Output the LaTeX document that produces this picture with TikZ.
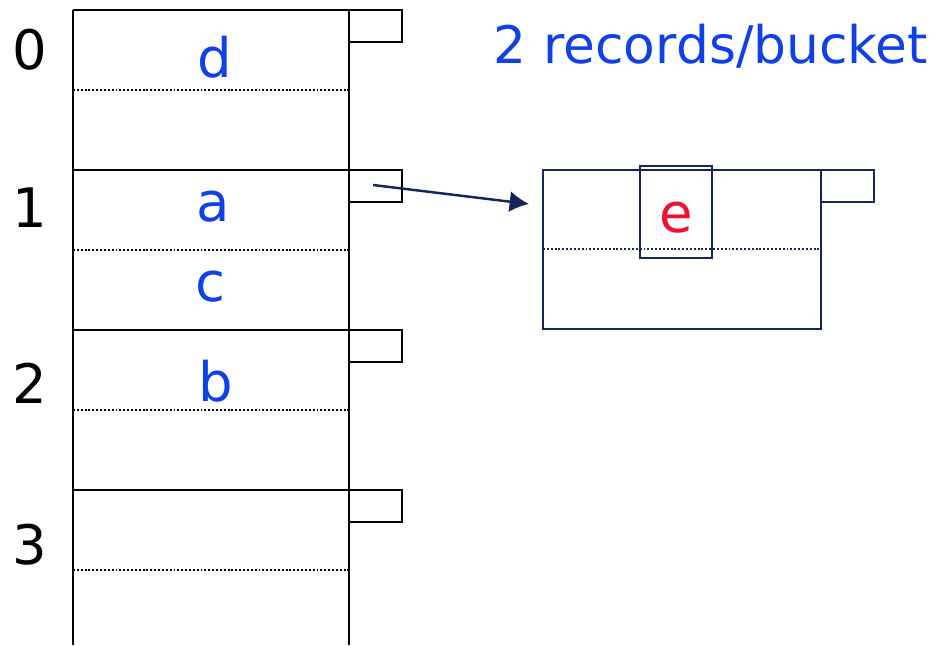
\documentclass[tikz,border=0pt]{standalone}
\usepackage{fontspec}
\setmainfont{DejaVu Sans}
\usetikzlibrary{arrows.meta}
\definecolor{keyBlue}{RGB}{16,64,232}
\definecolor{keyRed}{RGB}{240,16,48}
\definecolor{linkNavy}{RGB}{22,36,92}
\newcommand{\bigText}{\fontsize{31}{36}\selectfont}
\newcommand{\bucketEdge}[1]{%%
  %% Top edge of a bucket and its pointer box.
  \draw[lineStyle] (\xleft,#1) -- (\xright,#1);
  \draw[lineStyle] (\xright,#1) rectangle ++(\ptrw,\ptrh);
  %% The dotted line between the two slots.
  \draw[slotStyle] (\xleft,#1+80) -- (\xright,#1+80);
}
\newcommand{\bucketIndex}[3]{%%
  \node[indexStyle] (#1) at (30,#2) {#3};
}
\newcommand{\bucketKey}[4]{%%
  \node[keyStyle] (#1) at (#2,#3) {#4};
}

\begin{document}
\begin{tikzpicture}[x=0.02cm,y=-0.02cm,%%
  lineStyle/.style={line width=1.4pt,black},%%
  slotStyle/.style={line width=1pt,dash pattern=on 1.1pt off 1.1pt,black},%%
  navyStyle/.style={line width=1.4pt,linkNavy},%%
  indexStyle/.style={font=\bigText,inner sep=0pt,black},%%
  keyStyle/.style={font=\bigText,inner sep=0pt,text=keyBlue},%%
  linkStyle/.style={-{Latex[length=11pt,width=12pt]},line width=1.4pt,linkNavy}
]
\useasboundingbox (0,0) rectangle (945,645);
%%
%%
\pgfmathsetmacro{\xleft}{73}
\pgfmathsetmacro{\xright}{349}
\pgfmathsetmacro{\ptrw}{53}
\pgfmathsetmacro{\ptrh}{32}
\pgfmathsetmacro{\ybottom}{645}
%% The hash table.
\draw[lineStyle] (\xleft,10) -- (\xleft,\ybottom);
\draw[lineStyle] (\xright,10) -- (\xright,\ybottom);
\bucketEdge{10}
\bucketEdge{170}
\bucketEdge{330}
\bucketEdge{490}
%% Bucket numbers.
\bucketIndex{idxZero}{50}{0}
\bucketIndex{idxOne}{208}{1}
\bucketIndex{idxTwo}{383}{2}
\bucketIndex{idxThree}{545}{3}
%% Keys stored in the buckets.
\bucketKey{keyD}{215}{57}{d}
\bucketKey{keyA}{213}{207}{a}
\bucketKey{keyC}{210}{287}{c}
\bucketKey{keyB}{216}{381}{b}
%% Capacity note.
\node[keyStyle,font=\fontsize{29.5}{36}\selectfont] (capacity) at (711,46) {2 records/bucket};
%%
%%
%% The overflow block chained to bucket 1.
\coordinate (overflowTop) at (543,170);
\draw[navyStyle] (overflowTop) rectangle (821,329);
\draw[navyStyle] (821,170) rectangle ++(\ptrw,\ptrh);
\draw[slotStyle,linkNavy] (543,249) -- (821,249);
\draw[navyStyle] (640,166) rectangle (712,258);
\node[keyStyle,text=keyRed] (keyE) at (676,218) {e};
%% Pointer from bucket 1 to the overflow block.
\coordinate (ptrOne) at (373,185);
\coordinate (overflowIn) at (529,204);
\draw[linkStyle] (ptrOne) -- (overflowIn);
\end{tikzpicture}
\end{document}
